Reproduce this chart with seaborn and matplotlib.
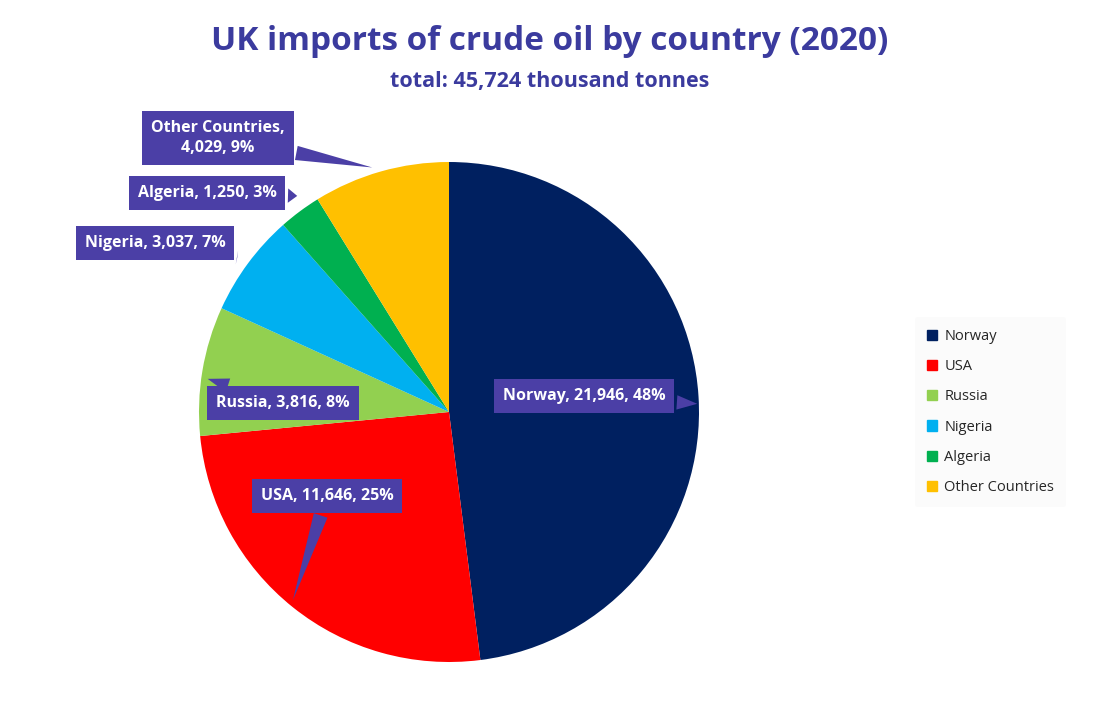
import matplotlib
matplotlib.use("Agg")
import matplotlib.pyplot as plt
import seaborn as sns

countries = ["Norway", "USA", "Russia", "Nigeria", "Algeria", "Other Countries"]
values = [21946, 11646, 3816, 3037, 1250, 4029]
percents = ["48%", "25%", "8%", "7%", "3%", "9%"]
colors = ["#002060", "#FF0000", "#92D050", "#00B0F0", "#00B050", "#FFC000"]

sns.set_theme(style="white")
plt.rcParams['font.family'] = ['Open Sans', 'DejaVu Sans']

W, H = 1099, 724
fig = plt.figure(figsize=(W/100, H/100), dpi=100)
cx, cy, r = 449, 412, 250
ax = fig.add_axes([(cx-r)/W, (H-cy-r)/H, 2*r/W, 2*r/H])
wedges, _ = ax.pie(values, colors=colors, startangle=90, counterclock=False,
                   wedgeprops=dict(linewidth=0))
ax.set_xlim(-1, 1); ax.set_ylim(-1, 1); ax.set_aspect('auto')

title_c = "#3B3B9E"
fig.text(0.5, 1-42/H, "UK imports of crude oil by country (2020)", ha="center", va="center",
         fontsize=24, fontweight="bold", color=title_c)
fig.text(0.5, 1-82/H, "total: 45,724 thousand tonnes", ha="center", va="center",
         fontsize=15.5, fontweight="bold", color=title_c)

box_c = "#4B3FA6"
label_pos = [(584, 396), (327, 496), (283, 403), (155, 243), (207, 193), (218, 138)]
targets = [(700, 404), (292, 603), (205, 378), (240, 258), (300, 196), (375, 168)]
for i, c in enumerate(countries):
    name = "Other Countries,\n" if c == "Other Countries" else c + ", "
    txt = f"{name}{values[i]:,}, {percents[i]}"
    lx, ly = label_pos[i]
    tx, ty = targets[i]
    ax.annotate(txt, xy=((tx-cx)/r, (cy-ty)/r), xycoords="data",
                xytext=((lx-cx)/r, (cy-ly)/r), textcoords="data",
                ha="center", va="center", fontsize=11.5, fontweight="bold", color="white",
                linespacing=1.4,
                bbox=dict(boxstyle="square,pad=0.55", fc=box_c, ec="none"),
                arrowprops=dict(arrowstyle="wedge,tail_width=0.9", fc=box_c, ec="none"),
                annotation_clip=False, zorder=5)

handles = [plt.Rectangle((0, 0), 1, 1, color=col) for col in colors]
leg = fig.legend(handles, countries, loc="center left", bbox_to_anchor=(908/W, 1-412/H),
                 frameon=True, fontsize=10.5, handlelength=0.7, handleheight=0.7,
                 labelspacing=1.05, handletextpad=0.5, borderpad=0.8)
leg.get_frame().set_facecolor("#FAFAFA")
leg.get_frame().set_edgecolor("none")

fig.savefig("out.png", dpi=100)
